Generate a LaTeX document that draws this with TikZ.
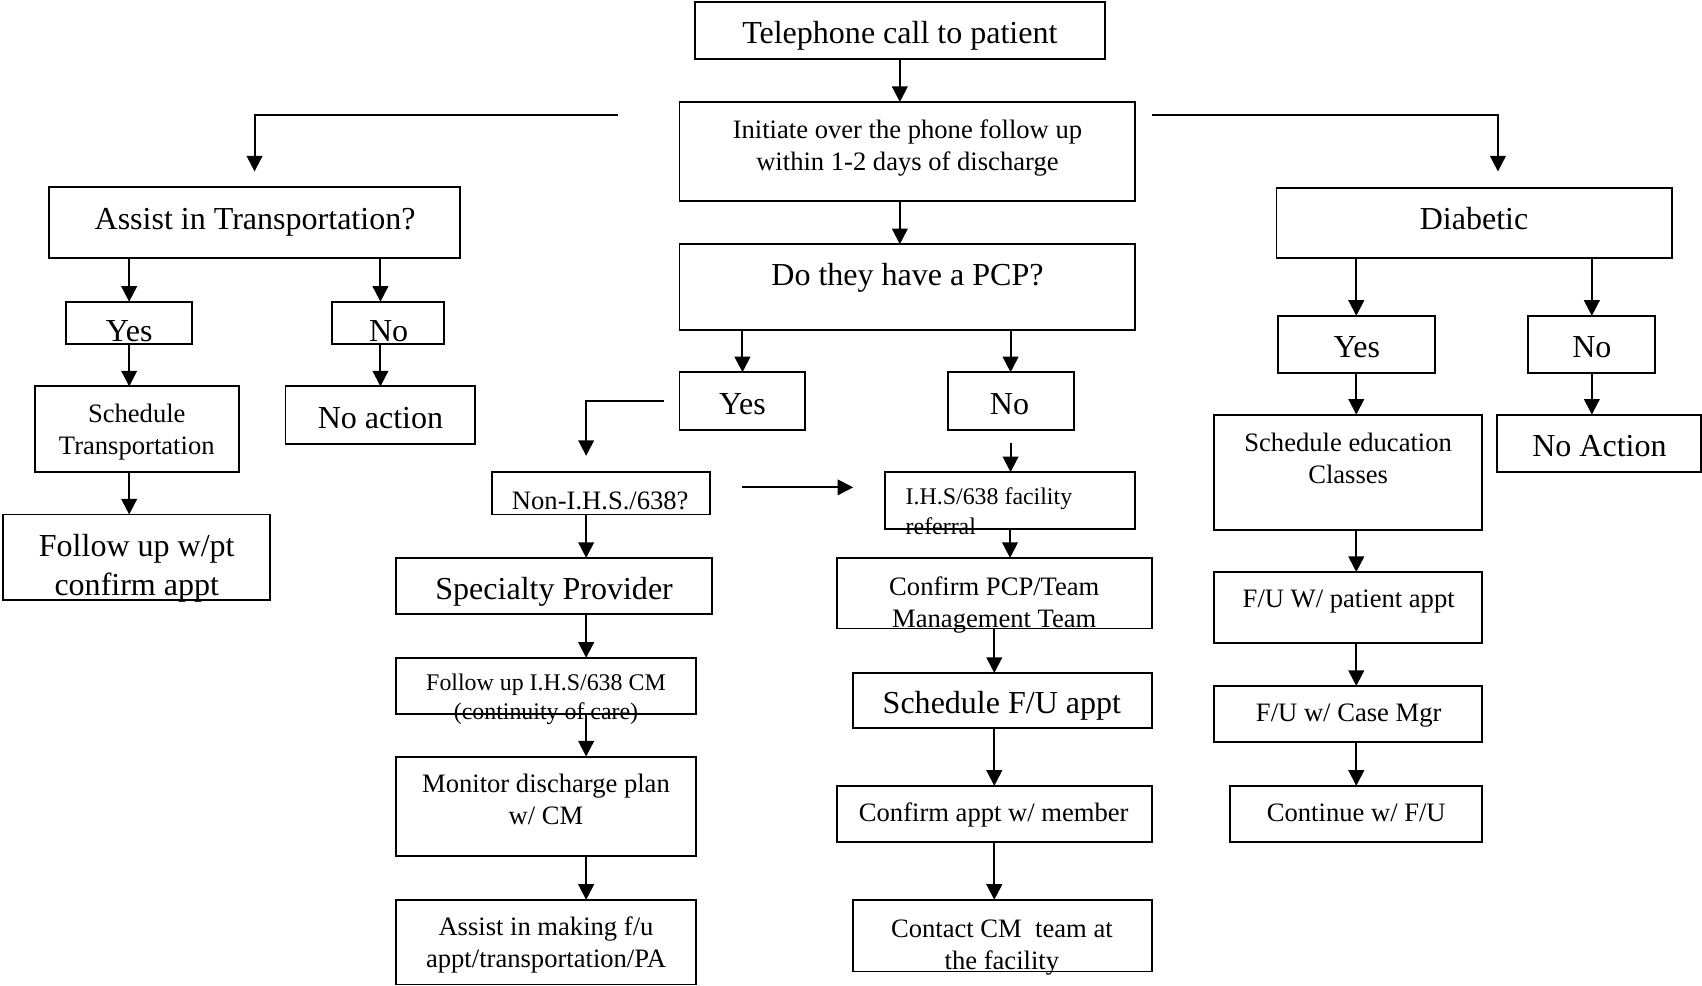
\documentclass[tikz,border=0pt]{standalone}
\usepackage{fontspec}
\setmainfont{Liberation Serif}
\usetikzlibrary{arrows.meta,calc}
\newcommand\bx[5]{\node[box, minimum width={(#4-#2)*0.5pt}, minimum height={(#5-#3)*0.5pt}] (#1) at ({(#2+#4)/2},{(#3+#5)/2}) {};}
\begin{document}
\begin{tikzpicture}[x=0.5pt,y=-0.5pt,
  box/.style={draw, line width=0.9pt, inner sep=0pt, outer sep=0pt},
  big/.style={font=\fontsize{14.75}{18}\selectfont, inner sep=0pt, anchor=base, align=center},
  med/.style={font=\fontsize{12.25}{14.75}\selectfont, inner sep=0pt, anchor=base, align=center},
  sml/.style={font=\fontsize{11}{13.5}\selectfont, inner sep=0pt, anchor=base west, align=left},
  arr/.style={line width=0.9pt, -{Triangle[length=7.2pt,width=7.2pt]}}]
\useasboundingbox (0,0) rectangle (1568,908);
% boxes
\bx{tel}{640}{2}{1018}{54}
\bx{init}{626}{94}{1046}{185}
\bx{pcp}{626}{225}{1046}{304}
\bx{assist}{45}{172}{424}{238}
\bx{diab}{1176}{173}{1540}{238}
\bx{ty}{61}{278}{177}{317}
\bx{tn}{306}{278}{409}{317}
\bx{st}{32}{356}{220}{435}
\bx{nact}{263}{356}{438}{409}
\bx{fu}{3}{474}{249}{553}
\bx{dy}{1177}{291}{1322}{344}
\bx{dn}{1408}{291}{1525}{344}
\bx{se}{1118}{382}{1365}{488}
\bx{na}{1379}{382}{1567}{435}
\bx{fw}{1118}{527}{1365}{592}
\bx{cm}{1118}{632}{1365}{684}
\bx{cont}{1133}{724}{1365}{776}
\bx{py}{626}{343}{742}{396}
\bx{pn}{873}{343}{989}{396}
\bx{nonihs}{453}{435}{654}{474}
\bx{ihs}{815}{435}{1046}{487}
\bx{spec}{365}{514}{656}{566}
\bx{fih}{365}{606}{641}{658}
\bx{mon}{365}{697}{641}{789}
\bx{am}{365}{829}{641}{907}
\bx{cpcp}{771}{514}{1061}{579}
\bx{sfu}{786}{620}{1061}{671}
\bx{cap}{771}{724}{1061}{776}
\bx{ccm}{786}{829}{1061}{895}
% texts (multi-line nodes: y is the baseline of the last line)
\node[big] (tel-t) at (829,40) {Telephone call to patient};
\node[med] (init-t) at (836,157) {Initiate over the phone follow up\\within 1-2 days of discharge};
\node[big] (pcp-t) at (836,263) {Do they have a PCP?};
\node[big] (assist-t) at (235,211) {Assist in Transportation?};
\node[big] (diab-t) at (1358,211) {Diabetic};
\node[big] (ty-t) at (119,315) {Yes};
\node[big] (tn-t) at (358,315) {No};
\node[med] (st-t) at (126,419) {Schedule\\Transportation};
\node[big] (nact-t) at (350.5,395) {No action};
\node[big] (fu-t) at (126,549) {Follow up w/pt\\confirm appt};
\node[big] (dy-t) at (1250,329) {Yes};
\node[big] (dn-t) at (1466.5,329) {No};
\node[med] (se-t) at (1242,445) {Schedule education\\Classes};
\node[big] (na-t) at (1473.5,421) {No Action};
\node[med] (fw-t) at (1242.5,560) {F/U W/ patient appt};
\node[med] (cm-t) at (1242.5,665) {F/U w/ Case Mgr};
\node[med] (cont-t) at (1249.5,757) {Continue w/ F/U};
\node[big] (py-t) at (684,382) {Yes};
\node[big] (pn-t) at (930,382) {No};
\node[med] (nonihs-t) at (553,469) {Non-I.H.S./638?};
\node[sml] (ihs-t) at (834,492) {I.H.S/638 facility\\referral};
\node[big] (spec-t) at (510.5,552) {Specialty Provider};
\node[sml, anchor=base, align=center] (fih-t) at (503,663) {Follow up I.H.S/638 CM\\(continuity of care)};
\node[med] (mon-t) at (503,760) {Monitor discharge plan\\w/ CM};
\node[med] (am-t) at (503,891) {Assist in making f/u\\appt/transportation/PA};
\node[med] (cpcp-t) at (916,578) {Confirm PCP/Team\\Management Team};
\node[big] (sfu-t) at (923,657) {Schedule F/U appt};
\node[med] (cap-t) at (915.5,757) {Confirm appt w/ member};
\node[med] (ccm-t) at (923,893) {Contact CM\ \ team at\\the facility};
% free points
\coordinate (lt) at (569,106);
\coordinate (rt) at (1061,106);
\coordinate (rx) at (1380,0);
\coordinate (colx) at (540,0);
\coordinate (ha) at (684,449);
\coordinate (hb) at (786,449);
% connectors
\draw[arr] (tel.south) -- (tel.south |- init.north);
\draw[arr] (tel.south |- init.south) -- (tel.south |- pcp.north);
\draw[arr] (lt) -| ($(assist.north)+(0,-14)$);
\draw[arr] (rt) -| ($(diab.north -| rx)+(0,-15)$);
\draw[arr] (ty.north |- assist.south) -- (ty.north);
\draw[arr] (nact.north |- assist.south) -- (nact.north |- tn.north);
\draw[arr] (ty.south) -- (ty.south |- st.north);
\draw[arr] (nact.north |- tn.south) -- (nact.north);
\draw[arr] (ty.south |- st.south) -- (ty.south |- fu.north);
\draw[arr] (dy.north |- diab.south) -- (dy.north);
\draw[arr] (dn.north |- diab.south) -- (dn.north);
\draw[arr] (dy.south) -- (dy.south |- se.north);
\draw[arr] (dn.south) -- (dn.south |- na.north);
\draw[arr] (dy.south |- se.south) -- (dy.south |- fw.north);
\draw[arr] (dy.south |- fw.south) -- (dy.south |- cm.north);
\draw[arr] (dy.south |- cm.south) -- (dy.south |- cont.north);
\draw[arr] (py.north |- pcp.south) -- (py.north);
\draw[arr] (pn.north |- pcp.south) -- (pn.north);
\draw[arr] ($(py.west)+(-14,0)$) -| ($(nonihs.north -| colx)+(0,-15)$);
\draw[arr] ($(pn.south)+(0,12)$) -- (pn.south |- ihs.north);
\draw[arr] (ha) -- (hb);
\draw[arr] (nonihs.south -| colx) -- (spec.north -| colx);
\draw[arr] (ihs.south) -- (ihs.south |- cpcp.north);
\draw[arr] (spec.south -| colx) -- (fih.north -| colx);
\draw[arr] (fih.south -| colx) -- (mon.north -| colx);
\draw[arr] (mon.south -| colx) -- (am.north -| colx);
\draw[arr] (cpcp.south) -- (cpcp.south |- sfu.north);
\draw[arr] (cpcp.south |- sfu.south) -- (cpcp.south |- cap.north);
\draw[arr] (cap.south) -- (cap.south |- ccm.north);
\end{tikzpicture}
\end{document}
